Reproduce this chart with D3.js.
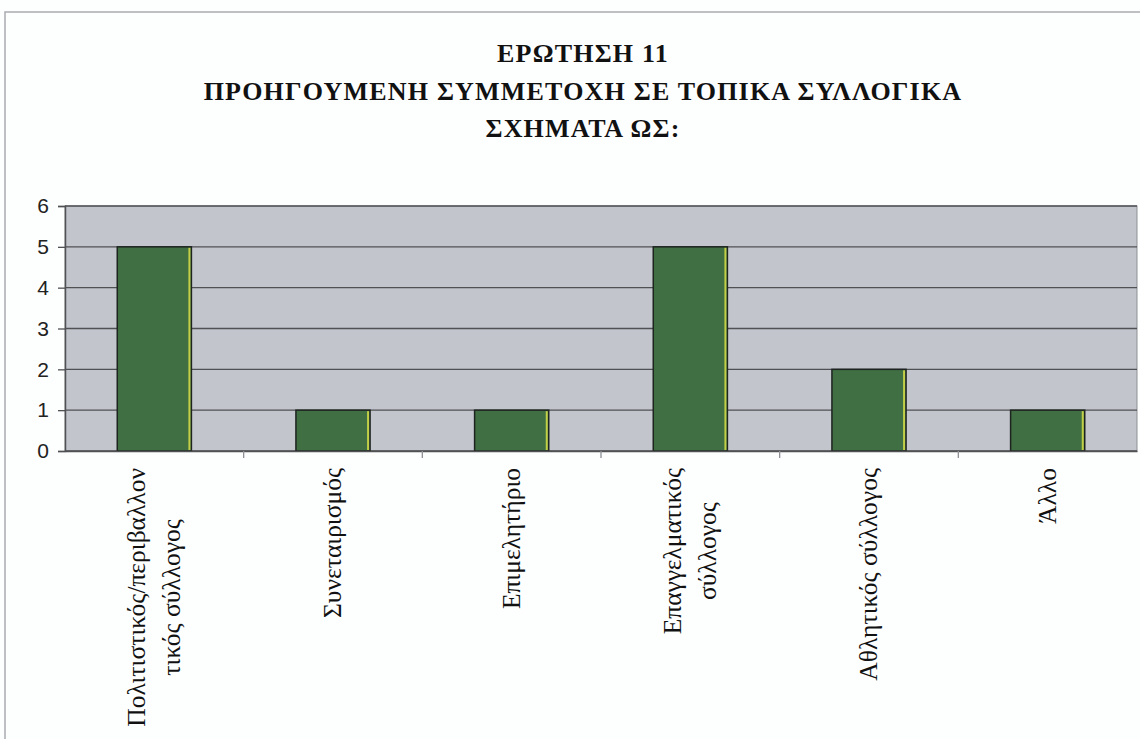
<!DOCTYPE html>
<html>
<head>
<meta charset="utf-8">
<script src="https://cdn.jsdelivr.net/npm/d3@7"></script>
<style>
  body { margin: 0; background: #fdfefe; }
  svg { display: block; }
</style>
</head>
<body>
<div id="chart"></div>
<script>

const W = 1140;
const H = 739;

// --------------------------------------------------------------------------------- data

const TITLE_LINES = ["ΕΡΩΤΗΣΗ 11",
                     "ΠΡΟΗΓΟΥΜΕΝΗ ΣΥΜΜΕΤΟΧΗ ΣΕ ΤΟΠΙΚΑ ΣΥΛΛΟΓΙΚΑ",
                     "ΣΧΗΜΑΤΑ ΩΣ:"];

const CATEGORIES = ["Πολιτιστικός/περιβαλλοντικός σύλλογος",
                    "Συνεταιρισμός",
                    "Επιμελητήριο",
                    "Επαγγελματικός σύλλογος",
                    "Αθλητικός σύλλογος",
                    "Άλλο"];

// label lines as they wrap in the original
const CATEGORY_LINES = [["Πολιτιστικός/περιβαλλον", "τικός σύλλογος"],
                        ["Συνεταιρισμός"],
                        ["Επιμελητήριο"],
                        ["Επαγγελματικός", "σύλλογος"],
                        ["Αθλητικός σύλλογος"],
                        ["Άλλο"]];

const VALUES = [5, 1, 1, 5, 2, 1];

const Y_TICKS = [0, 1, 2, 3, 4, 5, 6];

// --------------------------------------------------------------------------------- layout

const PLOT_X0 = 65;
const PLOT_X1 = 1137;
const PLOT_Y0 = 206;
const PLOT_Y1 = 451;

const TITLE_X = 583;
const TITLE_Y = 62;
const TITLE_PITCH = 37.5;

const LABEL_TOP = 468;
const LABEL_PITCH = 35;

const COLOR_PLOT = "#c2c5cc";
const COLOR_GRID = "#4f5153";
const COLOR_BAR = "#3f6f42";
const COLOR_BAR_EDGE = "#c4cf48";

let svg = d3.select("#chart")
            .append("svg")
                .attr("width", W)
                .attr("height", H);

// page frame
svg.append("rect")
        .attr("x", 5)
        .attr("y", 12)
        .attr("width", W)
        .attr("height", H)
        .attr("fill", "none")
        .attr("stroke", "#a9acb0")
        .attr("stroke-width", 1.5)

// --------------------------------------------------------------------------------- title

TITLE_LINES.forEach(function (t, i) {
    svg.append("text")
            .attr("x", TITLE_X)
            .attr("y", TITLE_Y + i * TITLE_PITCH)
            .attr("text-anchor", "middle")
            .attr("font-family", "'Liberation Serif', 'DejaVu Serif', serif")
            .attr("font-weight", "bold")
            .attr("font-size", 26)
            .attr("letter-spacing", 1.2)
            .attr("fill", "#111")
            .text(t)
})

// --------------------------------------------------------------------------------- scales

let x = d3.scaleBand()
            .domain(CATEGORIES)
            .range([PLOT_X0, PLOT_X1])
            .paddingInner(0.585)
            .paddingOuter(0.2925)

let y = d3.scaleLinear()
            .domain([0, 6])
            .range([PLOT_Y1, PLOT_Y0])

// --------------------------------------------------------------------------------- plot area

svg.append("rect")
        .attr("x", PLOT_X0)
        .attr("y", PLOT_Y0)
        .attr("width", PLOT_X1 - PLOT_X0)
        .attr("height", PLOT_Y1 - PLOT_Y0)
        .attr("fill", COLOR_PLOT)
        .attr("stroke", "#8d9094")
        .attr("stroke-width", 1)

svg.append("g")
        .selectAll("line")
        .data(Y_TICKS)
        .join("line")
            .attr("x1", PLOT_X0)
            .attr("x2", PLOT_X1)
            .attr("y1", d => y(d))
            .attr("y2", d => y(d))
            .attr("stroke", COLOR_GRID)
            .attr("stroke-width", 1.3)

// --------------------------------------------------------------------------------- bars

let bars = svg.append("g")
                .selectAll("g")
                .data(CATEGORIES)
                .join("g")

bars.append("rect")
        .attr("x", d => x(d))
        .attr("y", (d, i) => y(VALUES[i]))
        .attr("width", x.bandwidth())
        .attr("height", (d, i) => y(0) - y(VALUES[i]))
        .attr("fill", COLOR_BAR)
        .attr("stroke", "#1e2420")
        .attr("stroke-width", 1.5)

bars.append("line")
        .attr("x1", d => x(d) + x.bandwidth() - 2)
        .attr("x2", d => x(d) + x.bandwidth() - 2)
        .attr("y1", (d, i) => y(VALUES[i]) + 1)
        .attr("y2", y(0) - 1)
        .attr("stroke", COLOR_BAR_EDGE)
        .attr("stroke-width", 2)

// --------------------------------------------------------------------------------- axes

let yAxis = d3.axisLeft(y)
                .tickValues(Y_TICKS)
                .tickFormat(d3.format("d"))
                .tickSize(7)
                .tickPadding(9)

svg.append("g")
        .attr("transform", "translate(" + PLOT_X0 + ",0)")
        .call(yAxis)
        .call(g => g.select(".domain").attr("stroke", COLOR_GRID).attr("stroke-width", 1.5))
        .call(g => g.selectAll(".tick line").attr("stroke", COLOR_GRID).attr("stroke-width", 1.3))
        .call(g => g.selectAll("text")
                        .attr("font-family", "'Liberation Sans', Arial, sans-serif")
                        .attr("font-size", 21)
                        .attr("fill", "#222"))

let xAxis = d3.axisBottom(x)
                .tickSizeOuter(0)
                .tickSize(0)
                .tickFormat("")

svg.append("g")
        .attr("transform", "translate(0," + PLOT_Y1 + ")")
        .call(xAxis)
        .call(g => g.select(".domain").attr("stroke", COLOR_GRID).attr("stroke-width", 1.5))

// tick marks sit between categories
svg.append("g")
        .selectAll("line")
        .data(CATEGORIES.slice(1))
        .join("line")
            .attr("x1", d => x(d) - x.step() * x.paddingInner() / 2)
            .attr("x2", d => x(d) - x.step() * x.paddingInner() / 2)
            .attr("y1", PLOT_Y1)
            .attr("y2", PLOT_Y1 + 7)
            .attr("stroke", "#8d9094")
            .attr("stroke-width", 1.3)

// --------------------------------------------------------------------------------- category labels

CATEGORIES.forEach(function (c, i) {

    let lines = CATEGORY_LINES[i]
    let cx = x(c) + x.bandwidth() / 2
    let n = lines.length

    let g = svg.append("g")
                .attr("transform", "translate(" + cx + "," + LABEL_TOP + ") rotate(-90)")

    let texts = g.selectAll("text")
                    .data(lines)
                    .join("text")
                        .attr("y", (d, k) => (k - (n - 1) / 2) * LABEL_PITCH + 8)
                        .attr("text-anchor", "middle")
                        .attr("font-family", "'Liberation Serif', 'DejaVu Serif', serif")
                        .attr("font-size", 25.5)
                        .attr("fill", "#111")
                        .text(d => d)

    let maxLen = d3.max(texts.nodes(), n => n.getComputedTextLength())
    texts.attr("x", -maxLen / 2)
})

</script>
</body>
</html>
